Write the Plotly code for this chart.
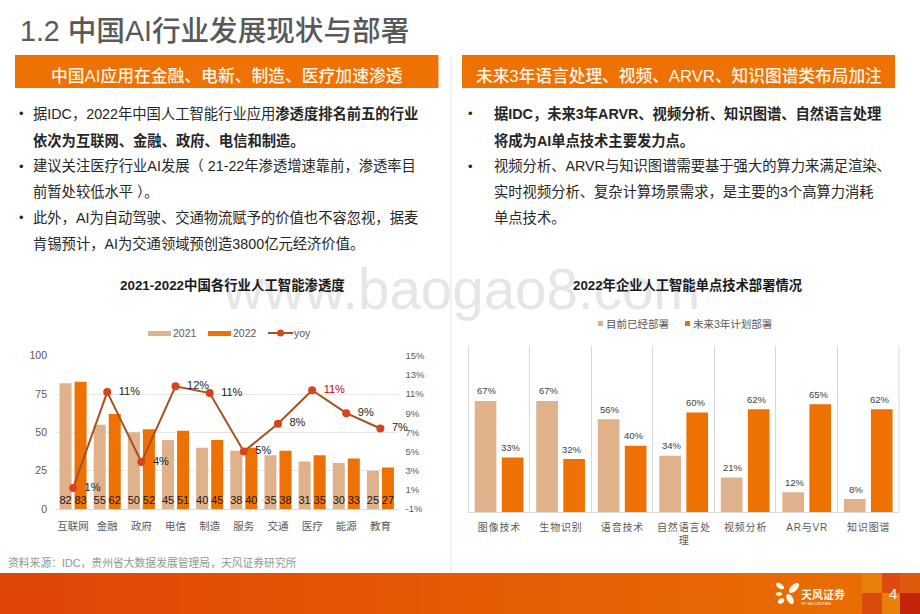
import math
import plotly.graph_objects as go

W, H = 920, 614
FONT = "Liberation Sans, Noto Sans CJK SC"
TAN = "#DFB28C"
ORANGE = "#EE7203"

# 左图数据
industries = ['互联网', '金融', '政府', '电信', '制造', '服务', '交通', '医疗', '能源', '教育']
pen_2021 = [82, 55, 50, 45, 40, 38, 35, 31, 30, 25]
pen_2022 = [83, 62, 52, 51, 45, 40, 38, 35, 33, 27]
yoy = [0.012, 0.112, 0.039, 0.118, 0.111, 0.050, 0.079, 0.114, 0.090, 0.074]
yoy_labels = ['1%', '11%', '4%', '12%', '11%', '5%', '8%', '11%', '9%', '7%']
yoy_colors = ['#222222'] * 7 + ['#C00000'] + ['#222222'] * 2
yoy_tickvals = [-0.01, 0.01, 0.03, 0.05, 0.07, 0.09, 0.11, 0.13, 0.15]
yoy_ticktext = ['-1%', '1%', '3%', '5%', '7%', '9%', '11%', '13%', '15%']

# 右图数据
techs = ['图像技术', '生物识别', '语音技术', '自然语言处<br>理', '视频分析', 'AR与VR', '知识图谱']
deployed = [67, 67, 56, 34, 21, 12, 8]
planned = [33, 32, 40, 60, 62, 65, 62]

# 页面文字
page_title = '1.2 中国AI行业发展现状与部署'
left_head = '中国AI应用在金融、电新、制造、医疗加速渗透'
right_head = '未来3年语言处理、视频、ARVR、知识图谱类布局加注'
left_lines = [
    '据IDC，2022年中国人工智能行业应用<b>渗透度排名前五的行业</b>',
    '<b>依次为互联网、金融、政府、电信和制造。</b>',
    '建议关注医疗行业AI发展（ 21-22年渗透增速靠前，渗透率目',
    '前暂处较低水平 ）。',
    '此外，AI为自动驾驶、交通物流赋予的价值也不容忽视，据麦',
    '肯锡预计，AI为交通领域预创造3800亿元经济价值。',
]
right_lines = [
    '<b>据IDC，未来3年ARVR、视频分析、知识图谱、自然语言处理</b>',
    '<b>将成为AI单点技术主要发力点。</b>',
    '视频分析、ARVR与知识图谱需要基于强大的算力来满足渲染、',
    '实时视频分析、复杂计算场景需求，是主要的3个高算力消耗',
    '单点技术。',
]


def px(x):
    return x / W


def py(y):
    return 1 - y / H


def label(x, y, text, size, color='#262626', anchor='left', weight=400):
    return dict(xref='paper', yref='paper', x=px(x), y=py(y), text=text, showarrow=False,
                xanchor=anchor, yanchor='middle', font=dict(size=size, color=color, family=FONT, weight=weight))


def rect(x0, y0, x1, y1, color):
    return dict(type='rect', xref='paper', yref='paper', x0=px(x0), x1=px(x1), y0=py(y0), y1=py(y1),
                fillcolor=color, line_width=0, layer='below')


def petal(cx, cy, a, b, deg):
    # logo 花瓣
    t = math.radians(deg)
    pts = []
    for i in range(24):
        u = 2 * math.pi * i / 24
        ex, ey = a * math.cos(u), b * math.sin(u)
        pts.append((cx + ex * math.cos(t) - ey * math.sin(t), cy + ex * math.sin(t) + ey * math.cos(t)))
    path = 'M' + 'L'.join(f'{px(p[0]):.5f},{py(p[1]):.5f}' for p in pts) + 'Z'
    return dict(type='path', xref='paper', yref='paper', path=path, fillcolor='#FFF4E6', line_width=0)


def spaced(s):
    if '<br>' in s:
        return '<br>'.join(spaced(p) for p in s.split('<br>'))
    return '\u200a'.join(s)


tech_ticks = [spaced(t) for t in techs]

fig = go.Figure()

# 左图
fig.add_trace(go.Bar(x=industries, y=pen_2021, name='2021', marker_color=TAN, text=pen_2021,
                     textposition='inside', insidetextanchor='start', constraintext='none',
                     textangle=0, textfont=dict(size=11, color='#1A1A1A')))
fig.add_trace(go.Bar(x=industries, y=pen_2022, name='2022', marker_color=ORANGE, text=pen_2022,
                     textposition='inside', insidetextanchor='start', constraintext='none',
                     textangle=0, textfont=dict(size=11, color='#1A1A1A')))
fig.add_trace(go.Scatter(x=industries, y=yoy, yaxis='y2', name='yoy', mode='lines+markers+text',
                         line=dict(color='#A5521E', width=2), marker=dict(color='#D8431C', size=8),
                         text=['\u2002' + t for t in yoy_labels], textposition='middle right',
                         textfont=dict(size=11, color=yoy_colors), cliponaxis=False))

# 右图
fig.add_trace(go.Bar(x=tech_ticks, y=deployed, xaxis='x2', yaxis='y3', name='目前已经部署', marker_color=TAN))
fig.add_trace(go.Bar(x=tech_ticks, y=planned, xaxis='x2', yaxis='y3', name='未来3年计划部署', marker_color=ORANGE))

# 页脚渐变
shapes = []
n = 46
for i in range(n):
    f = i / (n - 1)
    c = (int(224 + 10 * f), int(70 + 42 * f), int(8 - 6 * f))
    shapes.append(rect(i * 20, 573, (i + 1) * 20 + 1, 614, f'rgb{c}'))
shapes += [
    rect(862, 573, 882, 593, '#E8810C'), rect(882, 573, 900, 593, '#DC4A10'), rect(900, 573, 920, 593, '#DE5A0C'),
    rect(862, 593, 882, 614, '#DA4A0A'), rect(882, 593, 900, 614, '#E8810C'), rect(900, 593, 920, 614, '#C2240A'),
    rect(15, 55, 438.5, 88, ORANGE), rect(462, 55, 895, 88, ORANGE),
    rect(450.5, 57, 451.5, 572, '#E4E4E4'),
    petal(780, 586, 4.5, 2.5, 35), petal(794, 588, 6.5, 3.2, -45), petal(779, 594, 3.2, 1.8, 0),
    petal(781, 601, 3.5, 2.5, -30), petal(790, 599, 5.5, 3, 60),
    # 图例色块
    rect(148, 331, 171, 336, TAN), rect(208, 331, 231, 336, ORANGE),
    dict(type='line', xref='paper', yref='paper', x0=px(268), x1=px(293), y0=py(333), y1=py(333),
         line=dict(color='#A5521E', width=2)),
    dict(type='circle', xref='paper', yref='paper', x0=px(277), x1=px(284), y0=py(336.5), y1=py(329.5),
         fillcolor='#D8431C', line_width=0),
    rect(598, 321, 603, 326, TAN), rect(685, 321, 690, 326, ORANGE),
    # 右图两侧边线
    rect(468, 346, 469, 512, '#D9D9D9'), rect(898.5, 346, 899.5, 512, '#D9D9D9'),
]

annotations = [label(220, 289, 'www.baogao8.com', 56.5, '#E6E6E6')]
annotations += [label(18, 31, page_title, 28.6, '#595959', weight=500)]
annotations += [label(226.5, 76, left_head, 16.8, '#FFF4E6', 'center', 500),
                label(679, 76, right_head, 16.7, '#FFF4E6', 'center', 500)]
for i, line in enumerate(left_lines):
    annotations.append(label(31, 114 + i * 26, line, 14.3))
for i in (0, 2, 4):
    annotations.append(label(17, 114 + i * 26, '•', 13))
for i, line in enumerate(right_lines):
    annotations.append(label(492, 114 + i * 26, line, 14.3))
for i in (0, 2):
    annotations.append(label(466, 114 + i * 26, '•', 13))
annotations += [
    label(232.5, 285, '<b>2021-2022中国各行业人工智能渗透度</b>', 13.4, '#1A1A1A', 'center'),
    label(687.5, 285, '<b>2022年企业人工智能单点技术部署情况</b>', 13.3, '#1A1A1A', 'center'),
    label(6, 562, '资料来源：IDC，贵州省大数据发展管理局，天风证券研究所', 10.8, '#8A9A90'),
    label(799, 594, '<b>天风证券</b>', 11, '#FFF4E6'),
    label(799, 603, 'TF SECURITIES', 4, '#FFF4E6'),
    label(892.5, 593, '4', 15, '#FFF4E6', 'center'),
    label(171, 333, '2021', 10.5, '#595959'),
    label(231, 333, '2022', 10.5, '#595959'),
    label(292, 333, 'yoy', 10.5, '#595959'),
    label(604, 323.5, '目前已经部署', 10.5, '#595959'),
    label(691, 323.5, '未来3年计划部署', 10.5, '#595959'),
]

# 右图柱顶数值
for vals, shift in ((deployed, -11.85), (planned, 11.85)):
    for t, v in zip(tech_ticks, vals):
        annotations.append(dict(xref='x2', yref='y3', x=t, y=v, text=f'{v}%', showarrow=False, xshift=shift, yshift=10,
                                font=dict(size=9.5, color='#404040', family=FONT)))

fig.update_layout(
    template='none', showlegend=False,
    width=W, height=H, autosize=False, margin=dict(l=0, r=0, t=0, b=0, pad=0),
    paper_bgcolor='white', plot_bgcolor='rgba(0,0,0,0)',
    font=dict(family=FONT, size=10.5, color='#595959'),
    barmode='group', bargap=0.12, bargroupgap=0.2, hovermode=False,
    shapes=shapes, annotations=annotations,
    xaxis=dict(domain=[px(56), px(397.5)], anchor='y', range=[-0.5, 9.5], showgrid=False, showline=True,
               linecolor='#D9D9D9', ticks='', ticklabelstandoff=7, tickfont=dict(size=10.5, color='#595959')),
    yaxis=dict(domain=[py(509), py(355.7)], anchor='x', range=[0, 100], dtick=25, gridcolor='#E6E6E6',
               zeroline=False, ticks='', ticklabelstandoff=8, tickfont=dict(size=10.5, color='#595959')),
    yaxis2=dict(domain=[py(509), py(355.7)], anchor='x', overlaying='y', side='right', range=[-0.01, 0.15],
                tickvals=yoy_tickvals, ticktext=yoy_ticktext, showgrid=False, zeroline=False, ticks='',
                ticklabelstandoff=7, tickfont=dict(size=9.5, color='#595959')),
    xaxis2=dict(domain=[px(468.3), px(899)], anchor='y3', range=[-0.5, 6.5], showgrid=True, gridcolor='#D9D9D9',
                tickson='boundaries', showline=True, linecolor='#D9D9D9', ticks='', tickangle=0,
                ticklabelstandoff=6, tickfont=dict(size=10, color='#595959')),
    yaxis3=dict(domain=[py(512.3), py(346)], anchor='x2', range=[0, 100], visible=False),
)

fig.write_html("out.html", config={'displayModeBar': False}, post_script="document.body.style.margin='0';")
